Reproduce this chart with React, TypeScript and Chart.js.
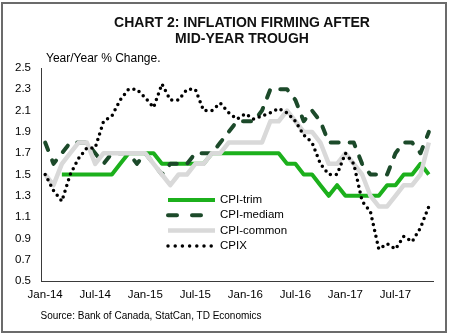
import React, { useEffect, useRef } from 'react';
import { Chart, registerables } from 'chart.js';

Chart.register(...registerables);

const FONT = '"Liberation Sans", Arial, Helvetica, sans-serif';

const MONTHS = [
  'Jan-14', 'Feb-14', 'Mar-14', 'Apr-14', 'May-14', 'Jun-14', 'Jul-14', 'Aug-14', 'Sep-14', 'Oct-14', 'Nov-14', 'Dec-14',
  'Jan-15', 'Feb-15', 'Mar-15', 'Apr-15', 'May-15', 'Jun-15', 'Jul-15', 'Aug-15', 'Sep-15', 'Oct-15', 'Nov-15', 'Dec-15',
  'Jan-16', 'Feb-16', 'Mar-16', 'Apr-16', 'May-16', 'Jun-16', 'Jul-16', 'Aug-16', 'Sep-16', 'Oct-16', 'Nov-16', 'Dec-16',
  'Jan-17', 'Feb-17', 'Mar-17', 'Apr-17', 'May-17', 'Jun-17', 'Jul-17', 'Aug-17', 'Sep-17', 'Oct-17', 'Nov-17',
];

const TICK_LABELS = ['Jan-14', 'Jul-14', 'Jan-15', 'Jul-15', 'Jan-16', 'Jul-16', 'Jan-17', 'Jul-17'];

const CPI_TRIM = [
  null, null, 1.5, 1.5, 1.5, 1.5, 1.5, 1.5, 1.5, 1.6,
  1.7, 1.7, 1.7, 1.7, 1.6, 1.6, 1.6, 1.6, 1.6, 1.6,
  1.7, 1.7, 1.7, 1.7, 1.7, 1.7, 1.7, 1.7, 1.7, 1.6,
  1.6, 1.5, 1.5, 1.4, 1.3, 1.4, 1.3, 1.3, 1.3, 1.3,
  1.3, 1.4, 1.4, 1.5, 1.5, 1.6, 1.5,
];

const CPI_MEDIAN = [
  1.8, 1.6, 1.7, 1.8, 1.8, 1.8, 1.7, 1.6, 1.7, 1.7,
  1.7, 1.6, 1.7, 1.6, 1.5, 1.6, 1.6, 1.6, 1.7, 1.7,
  1.7, 1.8, 1.9, 2.0, 2.0, 2.0, 2.1, 2.3, 2.3, 2.3,
  2.2, 2.0, 2.1, 2.0, 1.8, 1.8, 1.8, 1.8, 1.6, 1.5,
  1.5, 1.5, 1.7, 1.8, 1.8, 1.7, 1.9,
];

const CPI_COMMON = [
  1.5, 1.4, 1.6, 1.7, 1.8, 1.8, 1.6, 1.7, 1.7, 1.7,
  1.7, 1.7, 1.7, 1.6, 1.5, 1.4, 1.5, 1.5, 1.6, 1.6,
  1.7, 1.7, 1.8, 1.8, 1.8, 1.8, 1.8, 2.0, 2.0, 2.1,
  2.0, 1.9, 1.9, 1.8, 1.6, 1.6, 1.7, 1.6, 1.5, 1.3,
  1.2, 1.2, 1.3, 1.4, 1.4, 1.5, 1.8,
];

const CPIX = [
  1.5, 1.35, 1.25, 1.5, 1.65, 1.75, 1.75, 2.0, 2.05, 2.2,
  2.3, 2.3, 2.22, 2.13, 2.35, 2.2, 2.2, 2.3, 2.3, 2.1,
  2.1, 2.17, 2.08, 2.02, 2.07, 2.02, 2.05, 2.08, 2.12, 2.08,
  2.0, 1.87, 1.8, 1.6, 1.5, 1.5, 1.7, 1.6, 1.25, 1.15,
  0.8, 0.85, 0.8, 0.92, 0.87, 1.0, 1.2,
];

const SERIES_NAMES = ['CPI-trim', 'CPI-mediam', 'CPI-common', 'CPIX'];

const STYLES = [
  { color: '#1cb01c', width: 4, dash: [] as number[], cap: 'butt', legendDash: [] as number[], order: 4 },
  { color: '#1c4a2a', width: 4, dash: [8, 11], cap: 'round', legendDash: [9, 15], order: 3 },
  { color: '#d9d9d9', width: 4.5, dash: [] as number[], cap: 'butt', legendDash: [] as number[], order: 2 },
  { color: '#000000', width: 3.5, dash: [0, 6], cap: 'round', legendDash: [0, 7.2], order: 1 },
];

const legendPlugin = {
  id: 'customLegend',
  afterDatasetsDraw(chart: any) {
    const ctx = chart.ctx as CanvasRenderingContext2D;
    const x0 = 168;
    const x1 = 215;
    const tx = 220;
    const y0 = 200;
    const dy = 15.3;
    ctx.save();
    SERIES_NAMES.forEach((name, i) => {
      const s = STYLES[i];
      const y = y0 + i * dy;
      ctx.beginPath();
      ctx.strokeStyle = s.color;
      ctx.lineWidth = s.width;
      ctx.lineCap = s.cap as CanvasLineCap;
      ctx.setLineDash(s.legendDash);
      const end = s.legendDash.length && s.legendDash[0] === 0 ? x1 - 3.5 : x1;
      ctx.moveTo(x0, y);
      ctx.lineTo(end, y);
      ctx.stroke();
      ctx.setLineDash([]);
      ctx.fillStyle = '#000';
      ctx.font = `11.5px ${FONT}`;
      ctx.textBaseline = 'middle';
      ctx.textAlign = 'left';
      ctx.fillText(name, tx, y);
    });
    ctx.restore();
  },
};

export default function App() {
  const ref = useRef<HTMLCanvasElement>(null);

  useEffect(() => {
    if (!ref.current) return;
    const seriesData = [CPI_TRIM, CPI_MEDIAN, CPI_COMMON, CPIX];
    const chart = new Chart(ref.current, {
      type: 'line',
      data: {
        labels: MONTHS,
        datasets: SERIES_NAMES.map((name, i) => ({
          label: name,
          data: seriesData[i],
          borderColor: STYLES[i].color,
          backgroundColor: STYLES[i].color,
          borderWidth: STYLES[i].width,
          borderDash: STYLES[i].dash,
          borderCapStyle: STYLES[i].cap as any,
          borderJoinStyle: 'round' as any,
          pointRadius: 0,
          pointHoverRadius: 0,
          tension: 0,
          fill: false,
          spanGaps: false,
          order: STYLES[i].order,
        })),
      },
      options: {
        responsive: false,
        animation: false,
        devicePixelRatio: 1,
        events: [],
        layout: { padding: { left: 0, right: 17, top: 68, bottom: 0 } },
        plugins: {
          legend: { display: false },
          tooltip: { enabled: false },
          title: { display: false },
        },
        scales: {
          x: {
            type: 'category',
            offset: true,
            grid: { display: false, drawTicks: false },
            border: { display: true, color: '#3a3a3a', width: 1 },
            ticks: {
              autoSkip: false,
              maxRotation: 0,
              minRotation: 0,
              padding: 7,
              color: '#000',
              font: { family: FONT, size: 11.5 },
              callback: (_v: any, i: number) => (TICK_LABELS.includes(MONTHS[i]) ? MONTHS[i] : ''),
            },
            afterFit: (s: any) => {
              s.height = 53;
            },
          },
          y: {
            type: 'linear',
            min: 0.5,
            max: 2.5,
            grid: { display: false, drawTicks: false },
            border: { display: true, color: '#3a3a3a', width: 1 },
            ticks: {
              stepSize: 0.2,
              padding: 10,
              color: '#000',
              font: { family: FONT, size: 11.5 },
              callback: (v: any) => Number(v).toFixed(1),
            },
            afterFit: (s: any) => {
              s.width = 41;
            },
          },
        },
      },
      plugins: [legendPlugin],
    });
    return () => chart.destroy();
  }, []);

  return (
    <div
      style={{
        position: 'absolute',
        left: 0,
        top: 0,
        width: 450,
        height: 334,
        background: '#fff',
        fontFamily: FONT,
        color: '#000',
        overflow: 'hidden',
      }}
    >
      <canvas
        ref={ref}
        width={450}
        height={334}
        style={{ position: 'absolute', left: 0, top: 0, width: 450, height: 334 }}
      />
      <div
        style={{
          position: 'absolute',
          left: 1,
          top: 2,
          width: 446,
          height: 331,
          border: '2px solid #6b6b6b',
          boxSizing: 'border-box',
          pointerEvents: 'none',
        }}
      />
      <div
        style={{
          position: 'absolute',
          left: 42,
          top: 13.7,
          width: 400,
          textAlign: 'center',
          fontWeight: 'bold',
          fontSize: 14,
          lineHeight: '16.3px',
          color: '#111',
        }}
      >
        CHART 2: INFLATION FIRMING AFTER
        <br />
        MID-YEAR TROUGH
      </div>
      <div
        style={{
          position: 'absolute',
          left: 46,
          top: 51,
          fontSize: 12,
          lineHeight: '14px',
          whiteSpace: 'nowrap',
        }}
      >
        Year/Year % Change.
      </div>
      <div
        style={{
          position: 'absolute',
          left: 40.5,
          top: 309.5,
          fontSize: 10,
          lineHeight: '12px',
          whiteSpace: 'nowrap',
        }}
      >
        Source: Bank of Canada, StatCan, TD Economics
      </div>
    </div>
  );
}
